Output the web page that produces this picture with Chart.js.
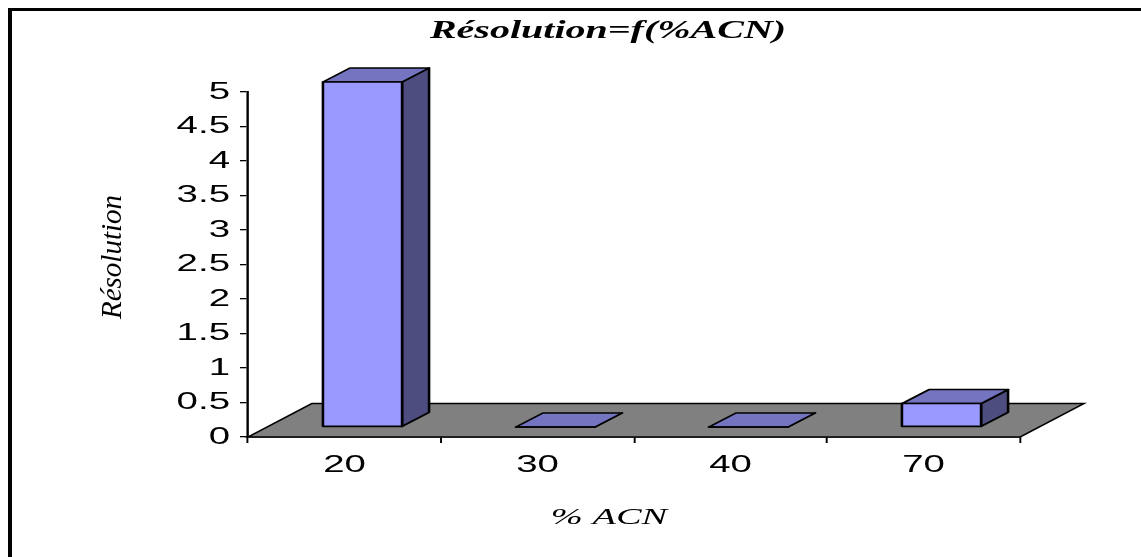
<!DOCTYPE html>
<html>
<head>
<meta charset="utf-8">
<script src="https://cdn.jsdelivr.net/npm/chart.js@4/dist/chart.umd.min.js"></script>
<style>
  html, body { margin: 0; padding: 0; background: #ffffff; overflow: hidden; }
  canvas { display: block; }
</style>
</head>
<body>
<canvas id="c" width="713" height="557" style="width:1141px;height:557px"></canvas>
<script>
// Data
const categories = ['20', '30', '40', '70'];
const resolution = [5, 0, 0, 0.34];
const yMin = 0;
const yMax = 5;
const yStep = 0.5;

// Texts
const chartTitle = 'Résolution=f(%ACN)';
const xTitle = '% ACN';
const yTitle = 'Résolution';

// The drawing is laid out on a narrower logical canvas and widened horizontally.
const PHYS_W = 1141;
const LOG_W = 713;
const SX = PHYS_W / LOG_W;
const px = v => v / SX;          // physical x -> logical x

const stretch = {
  id: 'stretch',
  beforeDraw(chart) { chart.ctx.setTransform(SX, 0, 0, 1, 0, 0); }
};

// Grey 3D floor under the bars
const floor3d = {
  id: 'floor3d',
  beforeDatasetsDraw(chart, args, o) {
    const { ctx, chartArea: { left, right, bottom } } = chart;
    ctx.save();
    ctx.beginPath();
    ctx.moveTo(left, bottom);
    ctx.lineTo(right, bottom);
    ctx.lineTo(right + o.dx, bottom + o.dy);
    ctx.lineTo(left + o.dx, bottom + o.dy);
    ctx.closePath();
    ctx.fillStyle = o.color;
    ctx.fill();
    ctx.lineWidth = o.lineWidth;
    ctx.strokeStyle = '#000';
    ctx.lineJoin = 'miter';
    ctx.stroke();
    ctx.restore();
  }
};

// Boxes: front, top and right-hand faces built from each bar element
const boxes3d = {
  id: 'boxes3d',
  afterDatasetsDraw(chart, args, o) {
    const { ctx } = chart;
    const meta = chart.getDatasetMeta(0);
    ctx.save();
    ctx.lineWidth = o.lineWidth;
    ctx.strokeStyle = '#000';
    ctx.lineJoin = 'round';
    meta.data.forEach(bar => {
      const w = bar.width;
      const x0 = bar.x - w / 2 + o.ox;
      const x1 = bar.x + w / 2 + o.ox;
      const yt = bar.y + o.oy;
      const yb = bar.base + o.oy;
      const face = (pts, fill) => {
        ctx.beginPath();
        ctx.moveTo(pts[0][0], pts[0][1]);
        for (let i = 1; i < pts.length; i++) ctx.lineTo(pts[i][0], pts[i][1]);
        ctx.closePath();
        ctx.fillStyle = fill;
        ctx.fill();
        ctx.stroke();
      };
      face([[x1, yt], [x1 + o.dx, yt + o.dy], [x1 + o.dx, yb + o.dy], [x1, yb]], o.side);
      face([[x0, yt], [x1, yt], [x1 + o.dx, yt + o.dy], [x0 + o.dx, yt + o.dy]], o.top);
      face([[x0, yt], [x1, yt], [x1, yb], [x0, yb]], o.front);
    });
    ctx.restore();
  }
};

// Titles and frame
const texts = {
  id: 'texts',
  afterDraw(chart) {
    const { ctx } = chart;
    ctx.save();
    ctx.fillStyle = '#000';
    ctx.textAlign = 'center';
    ctx.textBaseline = 'alphabetic';
    ctx.font = 'bold italic 25px "Liberation Serif"';
    ctx.fillText(chartTitle, px(608), 38);
    ctx.font = 'italic 24px "Liberation Serif"';
    ctx.fillText(xTitle, px(609), 524);

    ctx.setTransform(1, 0, 0, 1, 0, 0);
    ctx.save();
    ctx.translate(121, 257);
    ctx.rotate(-Math.PI / 2);
    ctx.font = 'italic 29px "Liberation Serif"';
    ctx.fillText(yTitle, 0, 0);
    ctx.restore();

    ctx.fillRect(8, 8, 4, 560);
    ctx.fillRect(8, 8, 1150, 3);
    ctx.restore();
  }
};

const canvas = document.getElementById('c');
const chart = new Chart(canvas, {
  type: 'bar',
  data: {
    labels: categories,
    datasets: [{
      data: resolution,
      backgroundColor: 'rgba(0,0,0,0)',
      borderWidth: 0,
      barPercentage: 0.41,
      categoryPercentage: 1
    }]
  },
  options: {
    responsive: false,
    animation: false,
    devicePixelRatio: 1,
    events: [],
    layout: { padding: { left: 0, right: LOG_W - px(1020), top: 92, bottom: 0 } },
    plugins: {
      legend: { display: false },
      title: { display: false },
      tooltip: { enabled: false },
      floor3d: { dx: px(64), dy: -33.5, color: '#808080', lineWidth: 1.4 },
      boxes3d: {
        ox: px(18), oy: -10, dx: px(27), dy: -14, lineWidth: 1.6,
        front: '#9999ff', top: '#7474c0', side: '#4d4d80'
      }
    },
    scales: {
      x: {
        type: 'category',
        offset: true,
        afterFit: s => { s.height = 120; },
        grid: { display: true, offset: true, drawOnChartArea: false, drawTicks: true,
                tickLength: 6, color: '#000', lineWidth: 1.2 },
        border: { display: true, color: '#000', width: 1.4 },
        ticks: { color: '#000', padding: 8, font: { family: 'Liberation Sans', size: 24 } }
      },
      y: {
        min: yMin,
        max: yMax,
        afterFit: s => { s.width = px(248); },
        grid: { display: true, drawOnChartArea: false, drawTicks: true,
                tickLength: px(8), color: '#000', lineWidth: 1.3 },
        border: { display: true, color: '#000', width: 1.5 },
        ticks: { stepSize: yStep, color: '#000', padding: px(10),
                 font: { family: 'Liberation Sans', size: 24 },
                 callback: v => String(Math.round(v * 10) / 10) }
      }
    }
  },
  plugins: [stretch, floor3d, boxes3d, texts]
});

// widen the bitmap to the full page width and repaint
canvas.width = PHYS_W;
chart.draw();
</script>
</body>
</html>
